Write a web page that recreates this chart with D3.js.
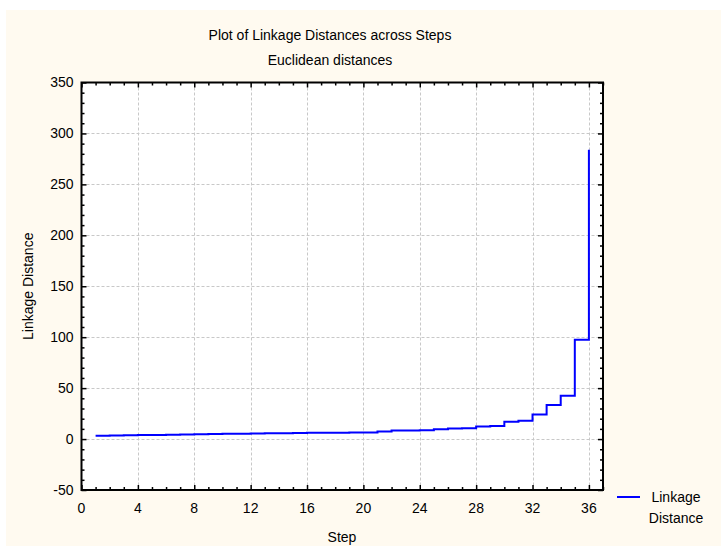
<!DOCTYPE html>
<html><head><meta charset="utf-8">
<script src="https://cdn.jsdelivr.net/npm/d3@7"></script>
<style>body{margin:0;background:#fff;overflow:hidden}</style>
</head><body>
<script>
// ---- data ----
const steps = [1,2,3,4,5,6,7,8,9,10,11,12,13,14,15,16,17,18,19,20,21,22,23,24,25,26,27,28,29,30,31,32,33,34,35,36];
const linkageDistance = [3.2,3.5,3.8,4.1,4.1,4.2,4.5,4.8,4.9,5.1,5.2,5.5,5.6,5.8,5.9,6.1,6.2,6.3,6.4,6.5,7.5,8.3,8.5,8.7,9.6,10.3,10.7,12.3,12.7,17.0,18.0,24.0,33.5,42.5,97.5,284];
const xTickValues = [0,4,8,12,16,20,24,28,32,36];
const yTickValues = [-50,0,50,100,150,200,250,300,350];
const xMinorTicks = [1,2,3,5,6,7,9,10,11,13,14,15,17,18,19,21,22,23,25,26,27,29,30,31,33,34,35,37];
const yMinorTicks = [-40,-30,-20,-10,10,20,30,40,60,70,80,90,110,120,130,140,160,170,180,190,210,220,230,240,260,270,280,290,310,320,330,340];
const titleText = "Plot of Linkage Distances across Steps";
const subtitleText = "Euclidean distances";
const xLabel = "Step";
const yLabel = "Linkage Distance";
const legendLines = ["Linkage", "Distance"];

// ---- layout ----
const W = 721, H = 546;
const L = 81.5, R = 603, T = 82.5, B = 490;
const font = "'Liberation Sans', Arial, sans-serif";
const fs = 14;

const svg = d3.select("body").append("svg").attr("width", W).attr("height", H);
svg.append("rect").attr("x", 6).attr("y", 10).attr("width", W - 6).attr("height", H - 10).attr("fill", "#fffaf0");

const x = d3.scaleLinear().domain([0, 37]).range([L, R]);
const y = d3.scaleLinear().domain([-50, 350]).range([B, T]);

svg.append("rect").attr("x", L).attr("y", T).attr("width", R - L).attr("height", B - T).attr("fill", "#fff");

// grid
const grid = svg.append("g").attr("stroke", "#c8c8c8").attr("stroke-width", 1).attr("stroke-dasharray", "3,2");
grid.selectAll(".gx").data(xTickValues.filter(d => d > 0)).enter().append("line")
  .attr("x1", d => Math.round(x(d)) + 0.5).attr("x2", d => Math.round(x(d)) + 0.5).attr("y1", T).attr("y2", B);
grid.selectAll(".gy").data(yTickValues.filter(d => d > -50 && d < 350)).enter().append("line")
  .attr("y1", d => Math.round(y(d)) + 0.5).attr("y2", d => Math.round(y(d)) + 0.5).attr("x1", L).attr("x2", R);

// line
const pts = steps.map((s, i) => [s, linkageDistance[i]]);
svg.append("path").datum(pts)
  .attr("d", d3.line().x(d => x(d[0])).y(d => y(d[1])).curve(d3.curveStepAfter))
  .attr("fill", "none").attr("stroke", "#0000ff").attr("stroke-width", 2);

// axes with inward ticks
function axisG(axisFn, scale, vals, size, transform) {
  const g = svg.append("g").attr("transform", transform)
    .call(axisFn(scale).tickValues(vals).tickSize(size).tickFormat(""));
  g.select(".domain").remove();
  g.selectAll("line").attr("stroke", "#000").attr("stroke-width", 1.5);
  return g;
}
axisG(d3.axisTop, x, xTickValues, 5, `translate(0,${B})`);
axisG(d3.axisTop, x, xMinorTicks, 3, `translate(0,${B})`);
axisG(d3.axisBottom, x, xTickValues, 5, `translate(0,${T})`);
axisG(d3.axisBottom, x, xMinorTicks, 3, `translate(0,${T})`);
axisG(d3.axisRight, y, yTickValues, 5, `translate(${L},0)`);
axisG(d3.axisRight, y, yMinorTicks, 3, `translate(${L},0)`);
axisG(d3.axisLeft, y, yTickValues, 5, `translate(${R},0)`);
axisG(d3.axisLeft, y, yMinorTicks, 3, `translate(${R},0)`);

// frame
svg.append("rect").attr("x", L).attr("y", T).attr("width", R - L).attr("height", B - T)
  .attr("fill", "none").attr("stroke", "#000").attr("stroke-width", 2);

// tick labels
svg.append("g").selectAll("text").data(yTickValues).enter().append("text")
  .attr("x", L - 8).attr("y", d => y(d)).attr("dy", "0.35em").attr("text-anchor", "end")
  .attr("font-family", font).attr("font-size", fs).text(d => d);
svg.append("g").selectAll("text").data(xTickValues).enter().append("text")
  .attr("x", d => x(d)).attr("y", B + 23).attr("text-anchor", "middle")
  .attr("font-family", font).attr("font-size", fs).text(d => d);

// titles
svg.append("text").attr("x", 330).attr("y", 40).attr("text-anchor", "middle")
  .attr("font-family", font).attr("font-size", fs).text(titleText);
svg.append("text").attr("x", 330).attr("y", 65).attr("text-anchor", "middle")
  .attr("font-family", font).attr("font-size", fs).text(subtitleText);
svg.append("text").attr("x", 342).attr("y", 542).attr("text-anchor", "middle")
  .attr("font-family", font).attr("font-size", fs).text(xLabel);
svg.append("text").attr("transform", `translate(33,${(T + B) / 2}) rotate(-90)`).attr("text-anchor", "middle")
  .attr("font-family", font).attr("font-size", fs).text(yLabel);

// legend
svg.append("line").attr("x1", 617).attr("x2", 640).attr("y1", 497).attr("y2", 497)
  .attr("stroke", "#0000ff").attr("stroke-width", 2);
svg.append("g").selectAll("text").data(legendLines).enter().append("text")
  .attr("x", 676).attr("y", (d, i) => 502 + i * 21).attr("text-anchor", "middle")
  .attr("font-family", font).attr("font-size", fs).text(d => d);
</script>
</body></html>
